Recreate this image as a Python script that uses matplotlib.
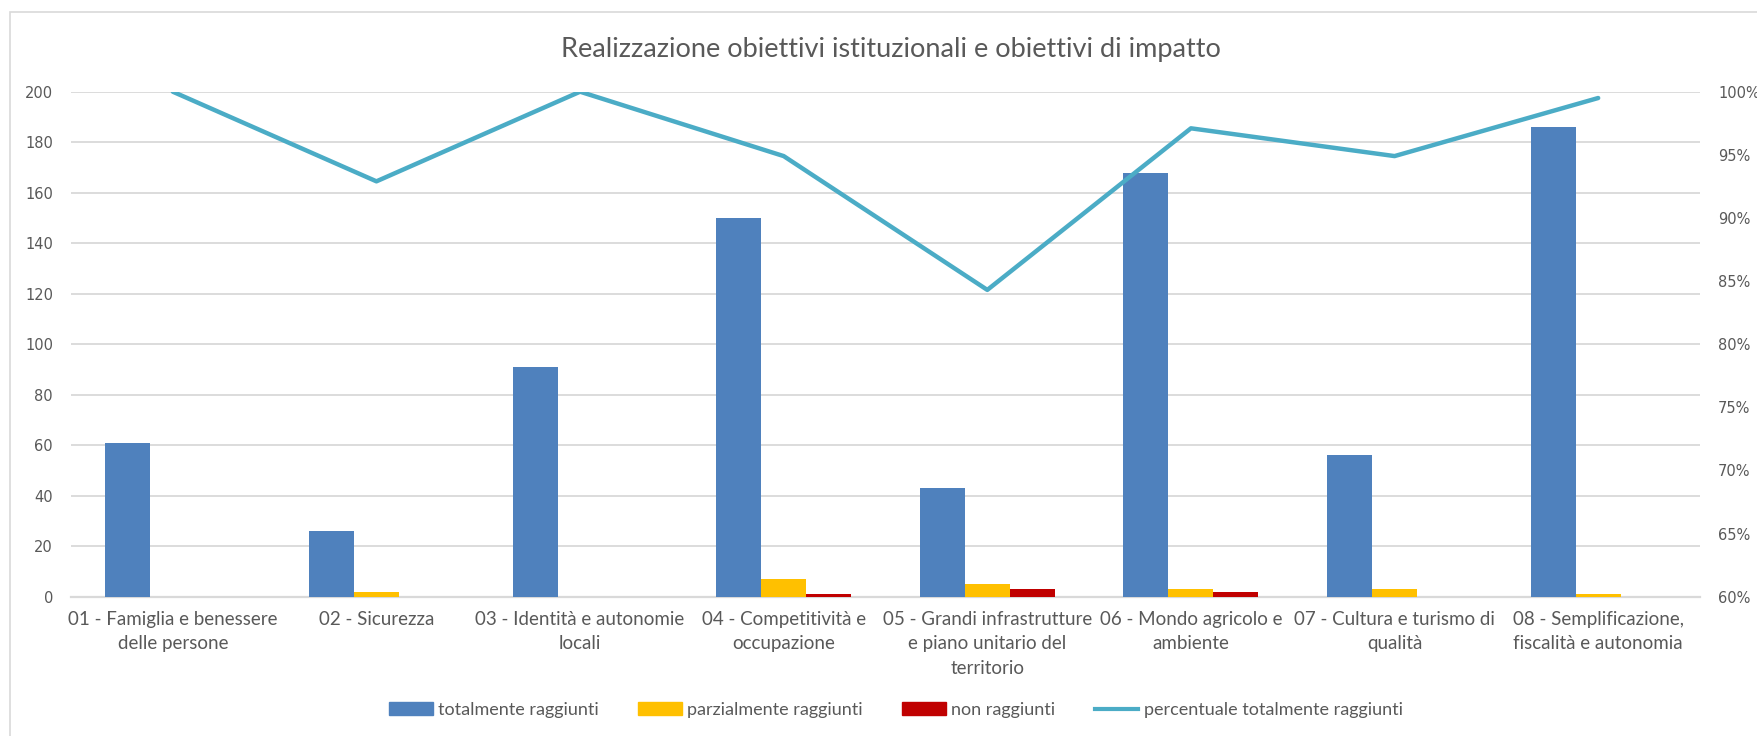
import numpy as np
import matplotlib.pyplot as plt
from matplotlib.patches import Rectangle
from matplotlib.lines import Line2D

# Data
categories = ["01 - Famiglia e benessere\ndelle persone",
              "02 - Sicurezza",
              "03 - Identità e autonomie\nlocali",
              "04 - Competitività e\noccupazione",
              "05 - Grandi infrastrutture\ne piano unitario del\nterritorio",
              "06 - Mondo agricolo e\nambiente",
              "07 - Cultura e turismo di\nqualità",
              "08 - Semplificazione,\nfiscalità e autonomia"]
totalmente = [61, 26, 91, 150, 43, 168, 56, 186]
parzialmente = [0, 2, 0, 7, 5, 3, 3, 1]
non_raggiunti = [0, 0, 0, 1, 3, 2, 0, 0]
percentuale = [1.00, 0.929, 1.00, 0.949, 0.843, 0.971, 0.949, 0.995]

c_blue = '#4F81BD'
c_yellow = '#FFC000'
c_red = '#C00000'
c_line = '#4BACC6'
c_text = '#595959'
c_grid = '#D9D9D9'
narrow = ['Lato', 'DejaVu Sans']

fig = plt.figure(figsize=(17.57, 7.36), dpi=100)
# light frame around the chart
fig.patches.append(Rectangle((10/1757, -0.1), 1.2, 1 - 12/736 + 0.1, transform=fig.transFigure,
                             fill=False, edgecolor='#D9D9D9', linewidth=1.2))

ax = fig.add_axes([71/1757, 1 - 596.7/736, (1700-71)/1757, (596.7-91.7)/736])
x = np.arange(len(categories))
w = 0.221
ax.bar(x - w, totalmente, w, color=c_blue, zorder=3)
ax.bar(x, parzialmente, w, color=c_yellow, zorder=3)
ax.bar(x + w, non_raggiunti, w, color=c_red, zorder=3)

ax.set_xlim(-0.5, len(categories) - 0.5)
ax.set_ylim(0, 200)
ax.set_yticks(range(0, 201, 20))
ax.yaxis.grid(True, color=c_grid, linewidth=1.3, zorder=0)
ax.set_axisbelow(True)
for s in ['top', 'right', 'left']:
    ax.spines[s].set_visible(False)
ax.spines['bottom'].set_color(c_grid)
ax.spines['bottom'].set_linewidth(1.6)
ax.set_xticks(x)
ax.set_xticklabels(categories, fontsize=13.5, color=c_text, family=narrow, linespacing=1.55)
ax.tick_params(axis='x', length=0, pad=10)
ax.tick_params(axis='y', length=0, pad=13, labelsize=10.5, labelcolor=c_text)

ax2 = ax.twinx()
ax2.plot(x, percentuale, color=c_line, linewidth=3.2, solid_capstyle='round', zorder=4)
ax2.set_ylim(0.6, 1.0)
ax2.set_yticks(np.arange(0.6, 1.001, 0.05))
ax2.set_yticklabels([f"{int(round(v*100))}%" for v in np.arange(0.6, 1.001, 0.05)])
ax2.tick_params(axis='y', length=0, pad=13, labelsize=10.5, labelcolor=c_text)
for s in ['top', 'right', 'left', 'bottom']:
    ax2.spines[s].set_visible(False)

fig.text(891/1757, 1 - 49/736, "Realizzazione obiettivi istituzionali e obiettivi di impatto",
         ha='center', va='center', fontsize=19.5, color=c_text, family=narrow)

handles = [Rectangle((0, 0), 1, 1, color=c_blue),
           Rectangle((0, 0), 1, 1, color=c_yellow),
           Rectangle((0, 0), 1, 1, color=c_red),
           Line2D([0], [0], color=c_line, linewidth=3)]
labels = ["totalmente raggiunti", "parzialmente raggiunti", "non raggiunti",
          "percentuale totalmente raggiunti"]
leg = fig.legend(handles, labels, loc='center', bbox_to_anchor=(896/1757, 1 - 710/736), ncol=4,
                 frameon=False, prop={'family': narrow, 'size': 13}, handlelength=2.4,
                 handleheight=0.7, handletextpad=0.3, columnspacing=2.2)
for t in leg.get_texts():
    t.set_color(c_text)

fig.savefig('out.png', dpi=100)
